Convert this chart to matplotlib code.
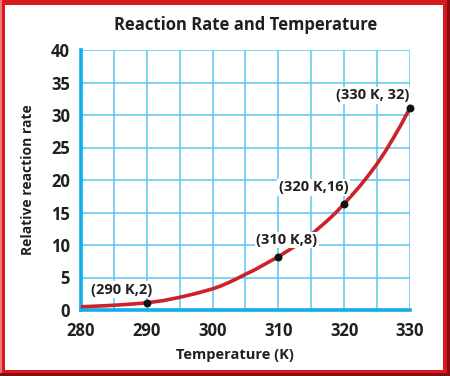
import numpy as np
import matplotlib.pyplot as plt
from matplotlib.patches import Rectangle

# curve
temp = [280, 282.5, 285, 287.5, 290, 292.5, 295, 297.5, 300, 301.25, 302.5,
        303.75, 305, 306.25, 307.5, 308.75, 310, 311.25, 312.5, 313.75, 315,
        316.25, 317.5, 318.75, 320, 321.25, 322.5, 323.75, 325, 326.25,
        327.5, 328.75, 330]
rate = [0.5, 0.6, 0.73, 0.9, 1.1, 1.45, 1.95, 2.55, 3.25, 3.7, 4.25,
        4.85, 5.5, 6.1, 6.8, 7.5, 8.2, 9.0, 9.8, 10.7, 11.6,
        12.7, 13.8, 15.0, 16.35, 17.75, 19.2, 20.8, 22.5, 24.4,
        26.5, 28.7, 31.1]

pt_x = [290, 310, 320, 330]
pt_y = [1.1, 8.2, 16.35, 31.1]
pt_lab = ["(290 K,2)", "(310 K,8)", "(320 K,16)", "(330 K, 32)"]
pt_off = [(-18, 9.5), (6, 12), (-22, 12), (-27, 9)]

xticks = [280, 290, 300, 310, 320, 330]
yticks = [0, 5, 10, 15, 20, 25, 30, 35, 40]

plt.rcParams['font.family'] = ['Open Sans', 'DejaVu Sans']
txt = '#231f20'
gridc = '#5cc8f0'

fig = plt.figure(figsize=(4.5, 3.76), dpi=100)
W, H = 450.0, 376.0

# red frame with a darker shadow on right and bottom
fig.patches.append(Rectangle((0, 0), 1, 1, transform=fig.transFigure,
                             facecolor='#d81920', edgecolor='none', zorder=-5))
fig.patches.append(Rectangle((0, 0), 2 / W, 1, transform=fig.transFigure,
                             facecolor='#ee7a7a', edgecolor='none', zorder=-4))
fig.patches.append(Rectangle((447 / W, 0), 3 / W, 1, transform=fig.transFigure,
                             facecolor='#8a0c10', edgecolor='none', zorder=-4))
fig.patches.append(Rectangle((0, 0), 1, 3 / H, transform=fig.transFigure,
                             facecolor='#8a0c10', edgecolor='none', zorder=-4))
fig.patches.append(Rectangle((5 / W, 6 / H), 438 / W, 365 / H, transform=fig.transFigure,
                             facecolor='white', edgecolor='none', zorder=-3))

ax = fig.add_axes([81 / W, 1 - 310 / H, 329 / W, 260 / H])
ax.set_facecolor('none')
ax.set_xlim(280, 330)
ax.set_ylim(0, 40)

for x in np.arange(285, 331, 5):
    ax.axvline(x, color=gridc, lw=1.1, zorder=1)
for y in np.arange(5, 41, 5):
    ax.axhline(y, color=gridc, lw=1.1, zorder=1)

for s in ['top', 'right']:
    ax.spines[s].set_visible(False)
for s in ['left', 'bottom']:
    ax.spines[s].set_color('#12aeea')
    ax.spines[s].set_linewidth(2.6)
    ax.spines[s].set_zorder(2)

ax.set_xticks(xticks)
ax.set_yticks(yticks)
ax.tick_params(length=0, labelsize=12, labelcolor=txt)
ax.tick_params(axis='x', pad=9)
ax.tick_params(axis='y', pad=8)
for lab in ax.get_xticklabels() + ax.get_yticklabels():
    lab.set_fontweight('bold')

ax.plot(temp, rate, color='#cc2229', lw=2.6, zorder=3, clip_on=False,
        solid_capstyle='butt', solid_joinstyle='round')
ax.scatter(pt_x, pt_y, s=22, color='#111111', zorder=4, clip_on=False)

for x, y, lab, off in zip(pt_x, pt_y, pt_lab, pt_off):
    ax.annotate(lab, (x, y), xytext=off, textcoords='offset points',
                ha='center', va='center', fontsize=10.5, fontweight='bold',
                color=txt, zorder=5,
                bbox=dict(boxstyle='square,pad=0.1', fc='white', ec='none'))

fig.text(246 / W, 1 - 25 / H, "Reaction Rate and Temperature", ha='center',
         va='center', fontsize=12, fontweight='bold', color=txt)
fig.text(235 / W, 1 - 355 / H, "Temperature (K)", ha='center', va='center',
         fontsize=10.5, fontweight='bold', color=txt)
fig.text(28 / W, 1 - 180 / H, "Relative reaction rate", ha='center',
         va='center', rotation=90, fontsize=10, fontweight='bold', color=txt)

fig.savefig('out.png', dpi=100)
